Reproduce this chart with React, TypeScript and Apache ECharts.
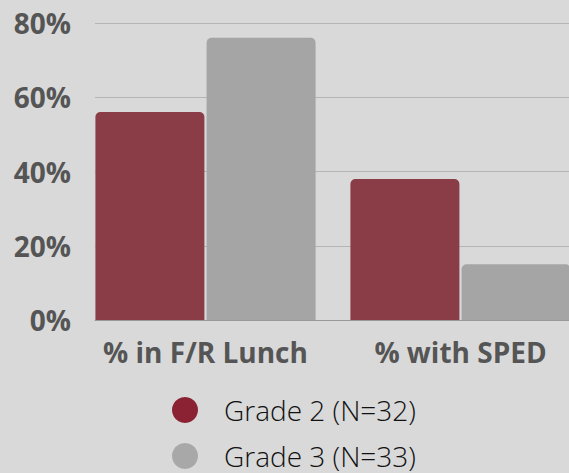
import React, { useEffect, useRef } from "react";
import * as echarts from "echarts";

const categories = ["% in F/R Lunch", "% with SPED"];
const seriesNames = ["Grade 2 (N=32)", "Grade 3 (N=33)"];
const grade2 = [56, 38];
const grade3 = [76, 15];
const yTicks = [0, 20, 40, 60, 80];

const CHART_W = 600;

export default function App() {
  const ref = useRef<HTMLDivElement>(null);
  useEffect(() => {
    if (!ref.current) return;
    const chart = echarts.init(ref.current, undefined, { renderer: "svg" });
    const barColors = ["#8b3d47", "#a5a5a5"];
    const legendColors = ["#8b2233", "#a8a8a8"];
    chart.setOption({
      animation: false,
      backgroundColor: "#d9d9d9",
      grid: [
        { left: 78, right: CHART_W - 588, top: 23, bottom: 153, containLabel: false },
        { left: 95, right: CHART_W - 569, top: 23, bottom: 153, containLabel: false },
      ],
      xAxis: [
        {
          type: "category",
          gridIndex: 0,
          data: categories,
          axisLine: { show: false },
          axisTick: { show: false },
          axisLabel: {
            interval: 0,
            color: "#555555",
            fontFamily: "Open Sans",
            fontWeight: "bold",
            fontSize: 28,
            margin: 18,
          },
        },
        {
          type: "category",
          gridIndex: 1,
          data: categories,
          axisLine: { show: true, lineStyle: { color: "#999999", width: 1 } },
          axisTick: { show: false },
          axisLabel: { show: false },
          z: 0,
        },
      ],
      yAxis: [
        {
          type: "value",
          gridIndex: 0,
          min: 0,
          max: 80,
          interval: 20,
          show: false,
          splitLine: { show: false },
        },
        {
          type: "value",
          gridIndex: 1,
          min: yTicks[0],
          max: yTicks[yTicks.length - 1],
          interval: 20,
          axisLine: { show: false },
          axisTick: { show: false },
          splitLine: { lineStyle: { color: "#b5b5b5", width: 1 } },
          axisLabel: {
            formatter: "{value}%",
            color: "#555555",
            fontFamily: "Open Sans",
            fontWeight: "bold",
            fontSize: 28,
            margin: 24,
          },
        },
      ],
      legend: {
        orient: "vertical",
        left: 167,
        top: 391,
        height: 150,
        itemWidth: 26,
        itemHeight: 26,
        itemGap: 18,
        icon: "circle",
        textStyle: {
          color: "#111111",
          fontFamily: "Open Sans",
          fontWeight: 300,
          fontSize: 28,
          padding: [0, 0, 0, 21],
        },
        data: seriesNames.map((n, i) => ({ name: n, itemStyle: { color: legendColors[i] } })),
      },
      series: [
        {
          name: seriesNames[0],
          type: "bar",
          xAxisIndex: 0,
          yAxisIndex: 0,
          data: grade2,
          barWidth: 109,
          barGap: "2%",
          itemStyle: { color: barColors[0], borderRadius: [5, 5, 0, 0] },
          z: 3,
        },
        {
          name: seriesNames[1],
          type: "bar",
          xAxisIndex: 0,
          yAxisIndex: 0,
          data: grade3,
          barWidth: 109,
          barGap: "2%",
          itemStyle: { color: barColors[1], borderRadius: [5, 5, 0, 0] },
          z: 3,
        },
        {
          name: "axis",
          type: "line",
          xAxisIndex: 1,
          yAxisIndex: 1,
          data: [],
        },
      ],
    });
    return () => chart.dispose();
  }, []);
  return (
    <div style={{ position: "absolute", left: 0, top: 0, width: 569, height: 473, overflow: "hidden" }}>
      <div ref={ref} style={{ width: CHART_W, height: 473 }} />
    </div>
  );
}
